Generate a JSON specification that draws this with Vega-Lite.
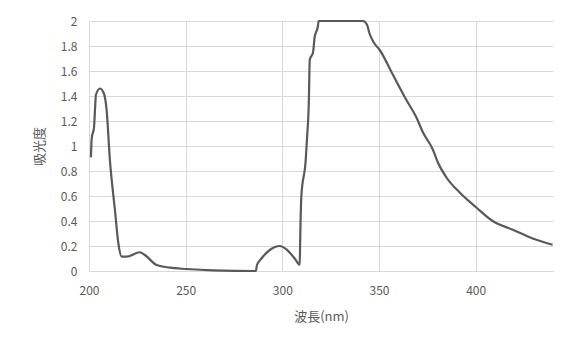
{
  "$schema": "https://vega.github.io/schema/vega-lite/v6.json",
  "width": 464,
  "height": 250,
  "autosize": {"type": "none"},
  "padding": {"left": 89, "top": 21, "right": 22, "bottom": 79},
  "background": "white",
  "config": {"view": {"stroke": null}},
  "data": {"values": [
    {"wl": 201.0, "abs": 0.91},
    {"wl": 201.4, "abs": 1.06},
    {"wl": 202.6, "abs": 1.15},
    {"wl": 203.1, "abs": 1.29},
    {"wl": 203.6, "abs": 1.41},
    {"wl": 205.7, "abs": 1.46},
    {"wl": 207.7, "abs": 1.42},
    {"wl": 209.1, "abs": 1.29},
    {"wl": 210.8, "abs": 0.89},
    {"wl": 213.4, "abs": 0.49},
    {"wl": 215.2, "abs": 0.22},
    {"wl": 216.9, "abs": 0.115},
    {"wl": 219.5, "abs": 0.115},
    {"wl": 226.3, "abs": 0.15},
    {"wl": 228.9, "abs": 0.128},
    {"wl": 235.0, "abs": 0.048},
    {"wl": 241.8, "abs": 0.027},
    {"wl": 250.4, "abs": 0.016},
    {"wl": 264.2, "abs": 0.005},
    {"wl": 286.3, "abs": 0.0},
    {"wl": 286.9, "abs": 0.048},
    {"wl": 289.2, "abs": 0.1},
    {"wl": 293.5, "abs": 0.168},
    {"wl": 298.7, "abs": 0.2},
    {"wl": 302.1, "abs": 0.173},
    {"wl": 306.4, "abs": 0.1},
    {"wl": 309.0, "abs": 0.05},
    {"wl": 309.2, "abs": 0.22},
    {"wl": 309.8, "abs": 0.59},
    {"wl": 312.1, "abs": 0.89},
    {"wl": 312.8, "abs": 1.07},
    {"wl": 313.5, "abs": 1.26},
    {"wl": 313.7, "abs": 1.35},
    {"wl": 314.2, "abs": 1.69},
    {"wl": 315.9, "abs": 1.75},
    {"wl": 316.7, "abs": 1.87},
    {"wl": 318.3, "abs": 1.95},
    {"wl": 318.8, "abs": 2.0},
    {"wl": 330.0, "abs": 2.0},
    {"wl": 341.7, "abs": 2.0},
    {"wl": 343.8, "abs": 1.97},
    {"wl": 345.1, "abs": 1.9},
    {"wl": 347.2, "abs": 1.83},
    {"wl": 350.3, "abs": 1.77},
    {"wl": 357.2, "abs": 1.57},
    {"wl": 364.1, "abs": 1.37},
    {"wl": 369.3, "abs": 1.23},
    {"wl": 372.7, "abs": 1.11},
    {"wl": 377.9, "abs": 0.97},
    {"wl": 380.4, "abs": 0.87},
    {"wl": 384.8, "abs": 0.75},
    {"wl": 391.6, "abs": 0.63},
    {"wl": 400.2, "abs": 0.51},
    {"wl": 408.8, "abs": 0.4},
    {"wl": 419.2, "abs": 0.33},
    {"wl": 429.5, "abs": 0.26},
    {"wl": 439.8, "abs": 0.21}
  ]},
  "mark": {"type": "line", "interpolate": "monotone", "color": "#595959", "strokeWidth": 2.2},
  "encoding": {
    "x": {
      "field": "wl", "type": "quantitative",
      "scale": {"domain": [200, 440], "nice": false, "zero": false},
      "axis": {
        "title": "波長(nm)", "values": [200, 250, 300, 350, 400],
        "grid": true, "gridColor": "#d9d9d9", "gridWidth": 1,
        "domainColor": "#d9d9d9", "domainWidth": 1, "ticks": false,
        "labelFlush": false,
        "labelColor": "#595959", "labelFontSize": 12, "labelFont": "Noto Sans CJK JP",
        "labelPadding": 14,
        "titleColor": "#595959", "titleFontSize": 13, "titleFont": "Noto Sans CJK JP",
        "titleFontWeight": "normal", "titlePadding": 14
      }
    },
    "y": {
      "field": "abs", "type": "quantitative",
      "scale": {"domain": [0, 2], "nice": false},
      "axis": {
        "title": "吸光度", "values": [0, 0.2, 0.4, 0.6, 0.8, 1, 1.2, 1.4, 1.6, 1.8, 2],
        "format": ".1~f",
        "grid": true, "gridColor": "#d9d9d9", "gridWidth": 1,
        "domain": false, "ticks": false, "labelFlush": false,
        "labelColor": "#595959", "labelFontSize": 12, "labelFont": "Noto Sans CJK JP",
        "labelPadding": 12,
        "titleColor": "#595959", "titleFontSize": 13, "titleFont": "Noto Sans CJK JP",
        "titleFontWeight": "normal", "titlePadding": 14
      }
    }
  }
}
